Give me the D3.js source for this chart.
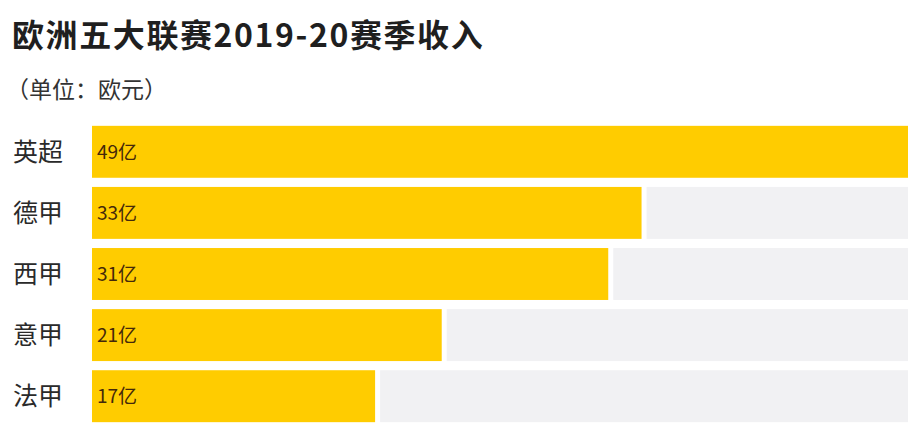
<!DOCTYPE html>
<html>
<head>
<meta charset="utf-8">
<script src="https://cdn.jsdelivr.net/npm/d3@7/dist/d3.min.js"></script>
<style>
  html, body { margin: 0; padding: 0; background: #ffffff; }
  svg { display: block; font-family: "Noto Sans CJK SC", "Noto Sans", sans-serif; }
</style>
</head>
<body>
<svg id="chart" width="912" height="432"></svg>
<script>
// League revenue, 2019-20 season (hundred-million euros)
const leagues = ["英超", "德甲", "西甲", "意甲", "法甲"];
const revenues = [49, 33, 31, 21, 17];
const valueLabels = ["49亿", "33亿", "31亿", "21亿", "17亿"];

const titleText = "欧洲五大联赛2019-20赛季收入";
const unitText = "（单位：欧元）";

const width = 912, height = 432;
const svg = d3.select("#chart");

const margin = { left: 92, right: 4, top: 124, bottom: 8 };

const x = d3.scaleLinear()
  .domain([0, d3.max(revenues)])
  .range([margin.left, width - margin.right]);

const y = d3.scaleBand()
  .domain(leagues)
  .range([margin.top, height - margin.bottom])
  .paddingInner(0.15)
  .paddingOuter(0.03);

const rows = leagues.map((name, i) => ({ name, value: revenues[i], label: valueLabels[i] }));

// Title and unit note
svg.append("text")
  .attr("x", 12)
  .attr("y", 47)
  .attr("font-size", 32)
  .attr("font-weight", 700)
  .attr("letter-spacing", 1.6)
  .attr("fill", "#1f1f1f")
  .text(titleText);

svg.append("text")
  .attr("x", 6)
  .attr("y", 98)
  .attr("font-size", 23)
  .attr("fill", "#333333")
  .text(unitText);

const g = svg.append("g");

// Grey track for the remaining length of each row
g.selectAll("rect.track")
  .data(rows)
  .join("rect")
  .attr("class", "track")
  .attr("x", d => x(d.value) + 5)
  .attr("y", d => y(d.name))
  .attr("width", d => Math.max(0, x.range()[1] - x(d.value) - 5))
  .attr("height", y.bandwidth())
  .attr("fill", "#f1f1f3");

// Value bars
g.selectAll("rect.bar")
  .data(rows)
  .join("rect")
  .attr("class", "bar")
  .attr("x", x(0))
  .attr("y", d => y(d.name))
  .attr("width", d => x(d.value) - x(0))
  .attr("height", y.bandwidth())
  .attr("fill", "#ffcc00");

// Value labels inside bars
g.selectAll("text.value")
  .data(rows)
  .join("text")
  .attr("class", "value")
  .attr("x", x(0) + 5)
  .attr("y", d => y(d.name) + y.bandwidth() / 2)
  .attr("dy", "0.36em")
  .attr("font-size", 19)
  .attr("fill", "#44280a")
  .text(d => d.label);

// League names on the left
g.selectAll("text.name")
  .data(rows)
  .join("text")
  .attr("class", "name")
  .attr("x", 13)
  .attr("y", d => y(d.name) + y.bandwidth() / 2)
  .attr("dy", "0.36em")
  .attr("font-size", 25)
  .attr("fill", "#2a2a2a")
  .text(d => d.name);
</script>
</body>
</html>
